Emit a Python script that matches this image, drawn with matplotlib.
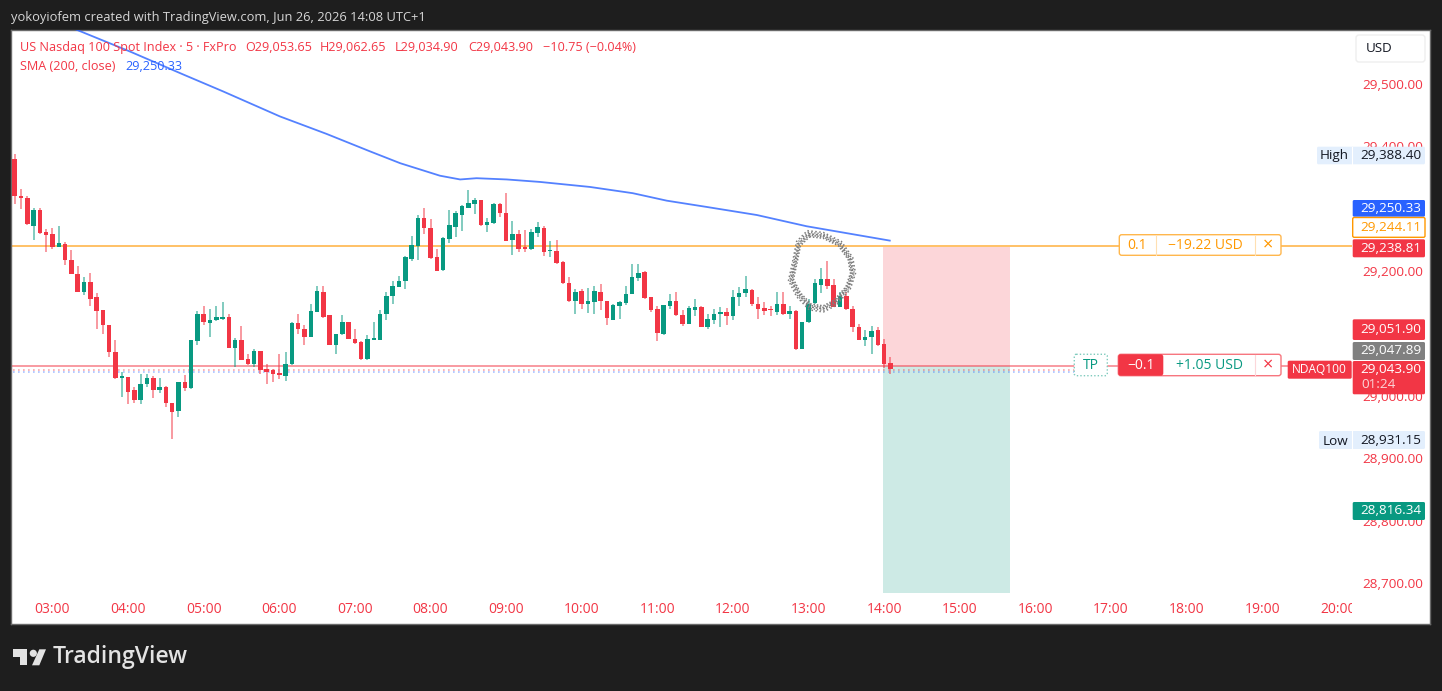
import matplotlib
matplotlib.use("Agg")
import matplotlib.pyplot as plt
from matplotlib.patches import Rectangle, FancyBboxPatch, Polygon, Circle
from matplotlib.transforms import Bbox

plt.rcParams['font.family'] = ['Open Sans', 'DejaVu Sans']
plt.rcParams['font.weight'] = 500

# 5 minute bars, the first one is 02:30
opens = [29380,29320,29318,29273,29298,29262,29259,29238,29244,29218,
         29196,29167,29182,29158,29137,29114,29071,29029,29030,29009,
         28994,29019,29029,29010,29014,28988,28976,29022,29012,29088,
         29132,29117,29121,29124,29126,29077,29090,29060,29051,29072,
         29043,29041,29037,29032,29051,29117,29108,29094,29135,29167,
         29129,29082,29099,29118,29092,29087,29060,29090,29090,29131,
         29160,29175,29184,29219,29241,29285,29270,29223,29202,29252,
         29271,29290,29302,29308,29314,29274,29277,29307,29294,29250,
         29260,29237,29235,29261,29270,29232,29233,29214,29181,29152,
         29168,29148,29151,29167,29152,29122,29145,29149,29164,29189,
         29198,29158,29140,29099,29145,29153,29130,29115,29138,29143,
         29111,29122,29131,29134,29128,29158,29165,29170,29148,29141,
         29138,29135,29147,29131,29136,29076,29118,29149,29178,29187,
         29178,29143,29160,29139,29110,29090,29094,29105,29084,29053.65]
highs = [29388,29332,29321,29302,29302,29268,29270,29272,29246,29234,
         29208,29190,29197,29165,29137,29114,29090,29038,29031,29015,
         29035,29035,29032,29029,29016,28988,29022,29033,29090,29136,
         29144,29140,29144,29151,29132,29093,29112,29068,29075,29072,
         29051,29043,29068,29070,29118,29131,29114,29147,29176,29176,
         29129,29099,29130,29119,29108,29088,29098,29119,29138,29166,
         29184,29193,29224,29256,29290,29301,29283,29235,29254,29298,
         29297,29306,29330,29318,29314,29285,29310,29309,29325,29281,
         29266,29266,29267,29279,29272,29249,29250,29216,29190,29172,
         29172,29173,29176,29180,29152,29147,29152,29176,29212,29212,
         29201,29158,29144,29146,29164,29167,29137,29145,29155,29144,
         29132,29140,29142,29141,29170,29174,29192,29171,29158,29151,
         29145,29166,29167,29145,29138,29119,29155,29187,29205,29217,
         29187,29167,29167,29145,29116,29105,29112,29110,29091,29062.65]
lows = [29308,29300,29274,29250,29260,29230,29236,29238,29210,29195,
        29167,29162,29144,29108,29099,29063,29028,28998,28987,28989,
        28987,29014,28996,29005,28983,28931,28966,29008,29011,29081,
        29113,29095,29120,29122,29077,29046,29058,29049,29046,29036,
        29019,29023,29027,29024,29050,29100,29082,29094,29135,29125,
        29081,29067,29097,29091,29084,29058,29057,29090,29090,29121,
        29147,29174,29171,29216,29218,29260,29220,29201,29201,29245,
        29254,29264,29302,29291,29273,29263,29276,29287,29248,29226,
        29231,29230,29234,29254,29224,29222,29212,29180,29151,29131,
        29140,29133,29132,29137,29113,29121,29123,29146,29163,29184,
        29156,29134,29088,29098,29139,29128,29112,29115,29128,29110,
        29108,29115,29111,29113,29121,29145,29158,29145,29124,29129,
        29128,29130,29130,29123,29074,29076,29117,29148,29165,29172,
        29143,29142,29138,29103,29090,29080,29067,29080,29045,29034.90]
closes = [29320,29317,29275,29298,29261,29258,29239,29245,29218,29196,
          29167,29182,29156,29136,29114,29070,29029,29032,29007,28993,
          29019,29029,29010,29015,28988,28975,29022,29012,29090,29132,
          29118,29122,29126,29126,29077,29090,29058,29051,29072,29041,
          29039,29036,29033,29051,29117,29107,29094,29136,29168,29127,
          29082,29099,29118,29091,29085,29060,29091,29092,29132,29160,
          29176,29185,29222,29242,29285,29270,29221,29201,29253,29274,
          29293,29305,29309,29314,29274,29279,29307,29293,29249,29260,
          29236,29236,29262,29271,29231,29234,29213,29181,29152,29167,
          29147,29152,29168,29152,29125,29146,29150,29164,29190,29197,
          29157,29138,29101,29146,29153,29129,29115,29141,29143,29111,
          29123,29131,29135,29128,29159,29165,29171,29147,29140,29136,
          29137,29147,29131,29136,29076,29118,29148,29181,29187,29177,
          29143,29160,29139,29110,29090,29095,29104,29082,29052,29043.90]

sma_bars = [9.8,18.3,26.8,33.1,42.1,49.5,56.4,61.2,67.5,70.7,73.3,78.1,83.4,91.3,98.1,103.5,109.8,117.8,125.7,138.9]
sma_vals = [29587,29552,29515,29488,29448,29420,29392,29373,29353,29347,29349,29347,29343,29335,29325,29313,29303,29290,29272,29249]

price_ticks = [28700,28800,28900,29000,29200,29400,29500]
hour_labels = ['03:00','04:00','05:00','06:00','07:00','08:00','09:00','10:00','11:00',
               '12:00','13:00','14:00','15:00','16:00','17:00','18:00','19:00','20:00']

orange_level = 29241
entry_level = 29048
last_level = 29041
ask_level = 29038
pos_start, pos_end = 137.8, 158.0
pos_stop, pos_target = 29239, 28684

RED = '#f23645'
GREEN = '#089981'
ORANGE = '#ff9800'
BLUE = '#2962ff'
DARK = '#1e1e1e'

fig = plt.figure(figsize=(14.42, 6.91), dpi=100, facecolor=DARK)
W, H = 1442.0, 691.0
ax = fig.add_axes([11/W, 1-624/H, (1430-11)/W, (624-30)/H])
ax.set_xlim(-0.587, 224.65)
ax.set_ylim(28634.6, 29586.5)
for s in ax.spines.values():
    s.set_color('#6a6a6a')
    s.set_linewidth(1)

# position box
ax.add_patch(Rectangle((pos_start, entry_level), pos_end-pos_start, pos_stop-entry_level, fc=RED, alpha=0.2, lw=0, zorder=1))
ax.add_patch(Rectangle((pos_start, pos_target), pos_end-pos_start, entry_level-pos_target, fc=GREEN, alpha=0.2, lw=0, zorder=1))

# price lines
ax.hlines(orange_level, -1, 212.3, color=ORANGE, lw=1.4, alpha=0.6, zorder=2)
ax.hlines(entry_level, -1, 202.1, color=RED, lw=1.4, alpha=0.5, zorder=2)
ax.hlines(last_level, -1, 173.4, color=RED, lw=1.2, alpha=0.45, linestyles=(0, (1, 2)), zorder=2)
ax.hlines(ask_level, -1, 173.4, color=BLUE, lw=1.2, alpha=0.4, linestyles=(0, (1, 2)), zorder=2)

# candles
for i in range(len(opens)):
    c = GREEN if closes[i] >= opens[i] else RED
    ax.vlines(i, lows[i], highs[i], color=c, lw=1.3, alpha=0.55, zorder=3)
    ax.bar(i, max(abs(closes[i]-opens[i]), 2.5), bottom=min(opens[i], closes[i]), width=0.72, color=c, lw=0, zorder=4)

ax.plot(sma_bars, sma_vals, color=BLUE, lw=1.3, alpha=0.8, zorder=5)

ax.set_axisbelow(True)
ax.yaxis.tick_right()
ax.set_yticks(price_ticks)
ax.set_yticklabels([f'{p:,.2f}' for p in price_ticks])
ax.tick_params(axis='y', length=0, pad=-49, labelsize=9.7, labelcolor=RED)
ax.set_xticks([6 + 12*k for k in range(len(hour_labels))])
ax.set_xticklabels(hour_labels)
ax.tick_params(axis='x', length=0, pad=-15.5, labelsize=10, labelcolor=RED)
for lab in ax.get_xticklabels():
    lab.set_clip_on(True)
    lab.set_clip_box(Bbox([[11, H-624], [1351.5, H-30]]))

# everything else is placed in screen pixels
ov = fig.add_axes([0, 0, 1, 1], zorder=10)
ov.set_xlim(0, W)
ov.set_ylim(H, 0)
ov.axis('off')


def box(x0, y0, x1, y1, fc, ec='none', lw=1, ls='-', z=2, r=1.5):
    ov.add_patch(FancyBboxPatch((x0+r, y0+r), x1-x0-2*r, y1-y0-2*r, boxstyle=f'round,pad={r},rounding_size={r}',
                                fc=fc, ec=ec, lw=lw, ls=ls, zorder=z))


def txt(x, y, s, color='#131722', size=9.7, ha='center', weight=500, z=5):
    ov.text(x, y, s, color=color, fontsize=size, ha=ha, va='center', fontweight=weight, zorder=z)


# the hand drawn circle, a few dotted rings on top of each other
ring_x = [808.3,823.3,840,850.7,853.3,848.3,835,823.3,810,798.3,790.7,795,798.3,808.3]
ring_y = [233.3,235,243.3,258.3,273.3,288.3,303.3,309.3,307.3,295,280,260,243.3,233.3]
for k, dash in zip([0.91, 0.95, 0.99, 1.03, 1.07], [(1, 1.2), (1, 0.8), (1.4, 1), (0.8, 1.3), (1, 1.6)]):
    ov.plot([822 + (x-822)*k for x in ring_x], [271 + (y-271)*k for y in ring_y], color='#7d7d7d',
            lw=1.1, linestyle=(0, dash), zorder=1)

# header
txt(11, 17, 'yokoyiofem created with TradingView.com, Jun 26, 2026 14:08 UTC+1', '#d6d6d6', 9.3, 'left')

# legend
txt(20, 47, 'US Nasdaq 100 Spot Index · 5 · FxPro', RED, 9.1, 'left')
txt(245.6, 47, 'O29,053.65', RED, 9.1, 'left')
txt(320, 47, 'H29,062.65', RED, 9.1, 'left')
txt(395, 47, 'L29,034.90', RED, 9.1, 'left')
txt(468, 47, 'C29,043.90', RED, 9.1, 'left')
txt(542.6, 47, '−10.75 (−0.04%)', RED, 9.1, 'left')
txt(20, 66, 'SMA (200, close)', RED, 9.1, 'left')
txt(125.3, 66, '29,250.33', BLUE, 9.1, 'left')

# usd button
box(1356, 35, 1425, 62, 'white', '#eeeeee', r=3)
txt(1379, 48, 'USD', '#131722', 9.6)

# high / low
box(1317, 146.7, 1425, 164.3, '#e3effd')
ov.plot([1352, 1352], [147, 164], color='white', lw=0.8, zorder=3)
txt(1334, 155, 'High')
txt(1391, 155, '29,388.40')
box(1319, 431, 1425, 449, '#e3effd')
ov.plot([1352, 1352], [431, 449], color='white', lw=0.8, zorder=3)
txt(1335, 441, 'Low')
txt(1391, 440, '28,931.15')

# price labels
box(1352.7, 200, 1425, 216.7, BLUE)
txt(1391, 208.5, '29,250.33', 'white')
box(1352.7, 217.5, 1425, 237.3, 'white', ORANGE)
txt(1391, 227, '29,244.11', ORANGE)
box(1352.7, 239.3, 1425, 257.3, RED)
txt(1391, 248, '29,238.81', 'white')
box(1352.7, 319.3, 1425, 340, RED)
txt(1391, 329, '29,051.90', 'white')
box(1352.7, 342, 1425, 360, '#808080')
txt(1391, 350.5, '29,047.89', 'white')
box(1352.7, 361, 1425, 394.3, RED)
txt(1391, 369, '29,043.90', 'white')
txt(1379, 384.5, '01:24', '#fbd5d8')
box(1287.7, 360.7, 1351.7, 378.7, RED)
txt(1319.5, 369, 'NDAQ100', 'white', 8.6)
box(1352.7, 502, 1425, 520, GREEN)
txt(1391, 511, '28,816.34', 'white')

# orange order line
box(1119.3, 234.7, 1281, 255.3, 'white', '#ffb74d', r=2.5)
ov.plot([1156, 1156], [235.5, 254.5], color='#ffe0b2', lw=0.8, zorder=3)
ov.plot([1254.7, 1254.7], [235.5, 254.5], color='#ffe0b2', lw=0.8, zorder=3)
txt(1137.3, 245.5, '0.1', ORANGE, 10)
txt(1205.7, 245.5, '−19.22 USD', ORANGE, 10)
txt(1267.7, 245, '×', ORANGE, 13, weight=400)

# red order line
box(1118.3, 354.3, 1281, 375.7, 'white', '#f7767f', r=2.5)
box(1118.3, 354.3, 1163.3, 375.7, RED, r=2.5, z=3)
txt(1141, 365.5, '−0.1', 'white', 10)
txt(1209, 365.5, '+1.05 USD', GREEN, 10)
ov.plot([1254.7, 1254.7], [355, 375], color='#fcd7da', lw=0.8, zorder=3)
txt(1267.7, 365, '×', RED, 13, weight=400)
box(1074.3, 354.3, 1107.3, 375.7, 'white', '#7fcbbd', ls=(0, (1, 1.5)), r=2)
txt(1091, 365.5, 'TP', GREEN, 10)

# logo
LOGO = '#e3e3e3'
ov.add_patch(Polygon([(13.3, 649.3), (26.7, 649.3), (26.7, 665.3), (20, 665.3), (20, 656.7), (13.3, 656.7)], fc=LOGO, lw=0))
ov.add_patch(Circle((33.3, 653.3), 3.6, fc=LOGO, lw=0))
ov.add_patch(Polygon([(39.3, 649.3), (46, 649.3), (39.3, 665.3), (32, 665.3)], fc=LOGO, lw=0))
txt(53, 657, 'TradingView', LOGO, 16.6, 'left', 600)

fig.savefig('out.png', dpi=100, facecolor=DARK)
